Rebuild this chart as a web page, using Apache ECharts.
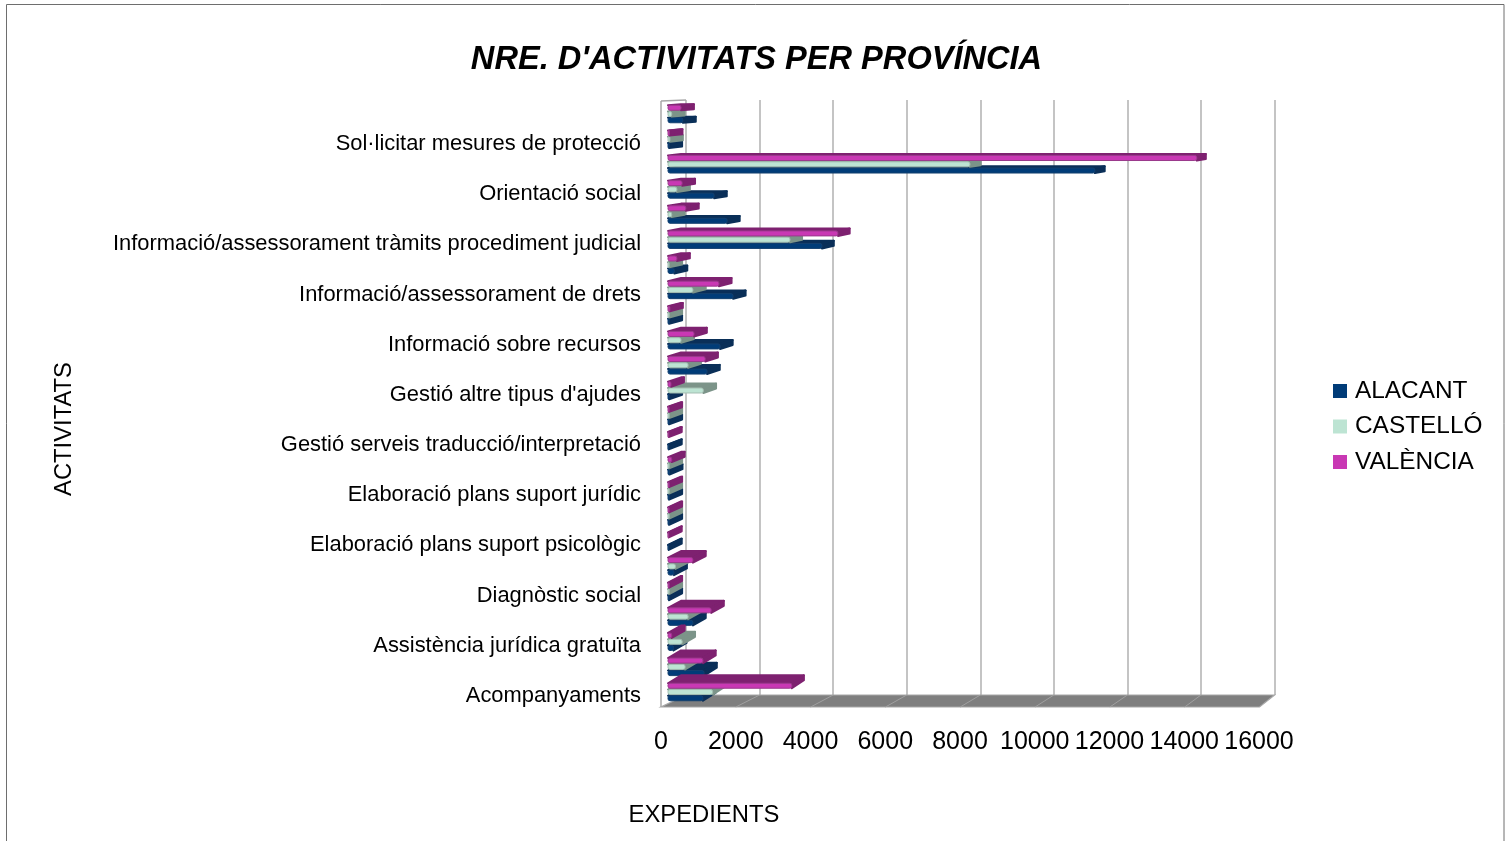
<!DOCTYPE html>
<html><head><meta charset="utf-8">
<style>html,body{margin:0;padding:0;background:#fff}#c{width:1511px;height:841px}</style>
<script src="https://cdn.jsdelivr.net/npm/echarts@6/dist/echarts.min.js"></script>
</head><body><div id="c"></div>
<script>
const categories = ["Acompanyaments","","Assistència jurídica gratuïta","","Diagnòstic social","","Elaboració plans suport psicològic","","Elaboració plans suport jurídic","","Gestió serveis traducció/interpretació","","Gestió altre tipus d'ajudes","","Informació sobre recursos","","Informació/assessorament de drets","","Informació/assessorament tràmits procediment judicial","","Orientació social","","Sol·licitar mesures de protecció",""];
const alacant  = [940,970,150,670,30,160,20,30,30,40,20,30,30,1050,1400,30,1750,170,4140,1590,1240,11480,30,400];
const castello = [1200,460,380,540,30,200,0,30,30,30,0,30,950,540,350,30,670,30,3280,100,240,8120,50,100];
const valencia = [3330,940,100,1160,30,670,20,30,30,100,20,30,80,1000,700,50,1370,240,4570,480,380,14220,40,350];
const seriesNames = ["ALACANT","CASTELLÓ","VALÈNCIA"];
const xTicks = [0,2000,4000,6000,8000,10000,12000,14000,16000];

const FONT = "Liberation Sans";
const faces = ["#003c78","#bde4d3","#c938b4"];
const tops = ["#0a2f58","#7c9489","#7e2170"];
const edges = ["#14406f","#a3bdb1","#9a3a8c"];
const offs = [6.2,0,-6.3];
const H = 5;

function barRender(k){
  return function(params, api){
    const v = api.value(0);
    if (!(v > 0)) return null;
    const a = api.coord([0, api.value(1)]);
    const b = api.coord([v, api.value(1)]);
    const y = a[1] + offs[k];
    const dy = y0 => -1 - 7 * (y0 - 113) / 572;
    const dx = x0 => 13 - 4 * (x0 - 668) / 530;
    const d = dy(y);
    const x0 = a[0], x1 = b[0];
    return {type:'group', children:[
      {type:'polygon', shape:{points:[[x0,y-H/2],[x1,y-H/2],[x1+dx(x1),y-H/2+d],[x0+dx(x0),y-H/2+d]]},
       style:{fill:tops[k], stroke:tops[k], lineWidth:2, lineJoin:'round'}},
      {type:'polygon', shape:{points:[[x1,y-H/2],[x1+dx(x1),y-H/2+d],[x1+dx(x1),y+H/2+d],[x1,y+H/2]]},
       style:{fill:tops[k], stroke:tops[k], lineWidth:2, lineJoin:'round'}},
      {type:'rect', shape:{x:x0,y:y-H/2,width:x1-x0,height:H,r:2},
       style:{fill:faces[k], stroke:edges[k], lineWidth:1}}
    ]};
  };
}

function floorRender(params, api){
  const r = params.coordSys;
  const bx0=r.x, bx1=r.x+r.width, by=r.y+r.height, ty=r.y;
  const fx0=bx0-25, fx1=bx1-15, fy=by+12;
  const kids = [
    {type:'polygon', shape:{points:[[fx0,fy],[fx1,fy],[bx1,by],[bx0,by]]}, style:{fill:'#7f7f7f',stroke:'#a8a8a8',lineWidth:1.2}},
    {type:'line', shape:{x1:fx0,y1:ty+1,x2:fx0,y2:fy}, style:{stroke:'#a8a8a8',lineWidth:1.5}},
    {type:'line', shape:{x1:fx0,y1:ty+1,x2:bx0,y2:ty}, style:{stroke:'#a8a8a8',lineWidth:1.5}}
  ];
  xTicks.slice(1,-1).forEach(t=>{
    const f=t/16000;
    kids.push({type:'line', shape:{x1:fx0+(fx1-fx0)*f,y1:fy,x2:bx0+(bx1-bx0)*f,y2:by}, style:{stroke:'#a0a0a0',lineWidth:1}});
  });
  return {type:'group', children:kids};
}

const series = [alacant,castello,valencia].map((vals,k)=>({
  name: seriesNames[k], type:'custom', xAxisIndex:1, yAxisIndex:1, z:5+k,
  renderItem: barRender(k), encode:{x:0,y:1}, clip:false,
  itemStyle:{color:faces[k]},
  data: vals.map((v,i)=>[v,i])
}));
series.unshift({type:'custom', xAxisIndex:2, yAxisIndex:2, z:1, silent:true, renderItem:floorRender, data:[[0,0]], clip:false, encode:{x:0,y:1}});

const chart = echarts.init(document.getElementById('c'), null, {renderer:'canvas'});
chart.setOption({
  animation:false, backgroundColor:'#fff', tooltip:{show:false},
  title:{text:"NRE. D'ACTIVITATS PER PROVÍNCIA", left:751.5, top:39, textAlign:'center',
    textStyle:{fontFamily:FONT,fontSize:32.6,fontWeight:'bold',fontStyle:'italic',color:'#000'}},
  legend:{orient:'vertical', left:1333, top:379, padding:0, itemWidth:14, itemHeight:14, itemGap:11.5, icon:'rect',
    data:seriesNames, selectedMode:false,
    textStyle:{fontFamily:FONT,fontSize:24.4,color:'#000',padding:[0,0,0,3]}},
  grid:[
    {left:661, top:106.3, width:598, height:602.2},
    {left:668, top:101.5, width:595, height:603.1},
    {left:686, top:100, width:588.5, height:595}
  ],
  xAxis:[
    {gridIndex:0,type:'value',min:0,max:16000,interval:2000,splitLine:{show:false},axisLine:{show:false},axisTick:{show:false},
     axisLabel:{margin:21,fontFamily:FONT,fontSize:25,color:'#000',hideOverlap:false,showMaxLabel:true,showMinLabel:true,formatter:v=>String(v)}},
    {gridIndex:1,type:'value',min:0,max:16000,show:false},
    {gridIndex:2,type:'value',min:0,max:16000,interval:2000,axisLine:{show:false},axisTick:{show:false},axisLabel:{show:false},
     splitLine:{show:true,lineStyle:{color:'#b0b0b0',width:1.5}}}
  ],
  yAxis:[
    {gridIndex:0,type:'category',data:categories,axisLine:{show:false},axisTick:{show:false},splitLine:{show:false},
     axisLabel:{interval:1,margin:20,fontFamily:FONT,fontSize:21.9,color:'#000'}},
    {gridIndex:1,type:'category',data:categories,show:false},
    {gridIndex:2,type:'value',min:0,max:1,show:false}
  ],
  graphic:[
    {type:'rect',silent:true,z:-1,shape:{x:6.5,y:4.5,width:1497.5,height:900},style:{fill:'none',stroke:'#6e6e6e',lineWidth:1}},
    {type:'text',silent:true,x:64,y:429,rotation:Math.PI/2,style:{text:'ACTIVITATS',fontFamily:FONT,fontSize:23.8,fill:'#000',textAlign:'center',textVerticalAlign:'middle'}},
    {type:'text',silent:true,x:704,y:815,style:{text:'EXPEDIENTS',fontFamily:FONT,fontSize:23.8,fill:'#000',textAlign:'center',textVerticalAlign:'middle'}}
  ],
  series
});
</script></body></html>
